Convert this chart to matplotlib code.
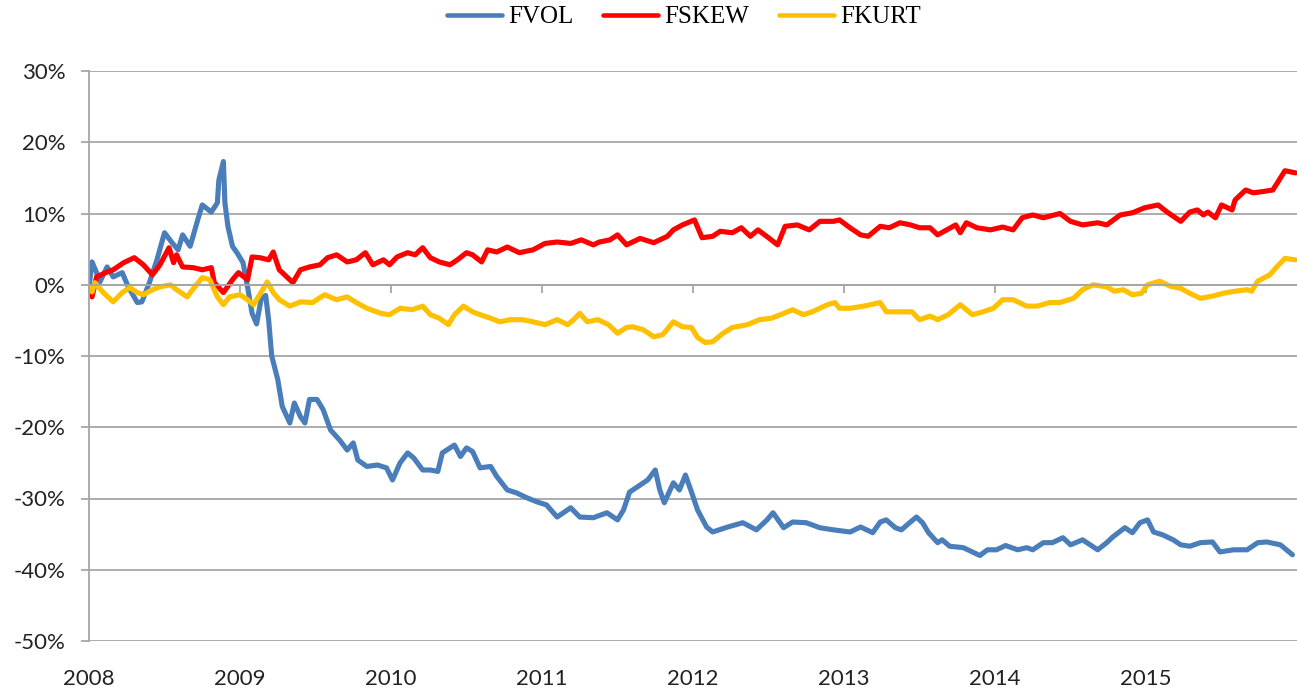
import matplotlib
matplotlib.use("Agg")
import matplotlib.pyplot as plt

# ---------------- data (decimal years, values in %) ----------------
years = [2008, 2009, 2010, 2011, 2012, 2013, 2014, 2015]
year_labels = ["2008", "2009", "2010", "2011", "2012", "2013", "2014", "2015"]
y_ticks = [-50, -40, -30, -20, -10, 0, 10, 20, 30]
y_tick_labels = ["-50%", "-40%", "-30%", "-20%", "-10%", "0%", "10%", "20%", "30%"]
series_names = ["FVOL", "FSKEW", "FKURT"]

fvol_t = [2008.00, 2008.02, 2008.05, 2008.07, 2008.12, 2008.16, 2008.22, 2008.26, 2008.32, 2008.35,
          2008.40, 2008.45, 2008.50, 2008.55, 2008.59, 2008.62, 2008.67, 2008.72, 2008.75, 2008.81,
          2008.85, 2008.86, 2008.89, 2008.90, 2008.92, 2008.95, 2008.98, 2009.02, 2009.05, 2009.08,
          2009.11, 2009.14, 2009.17, 2009.19, 2009.21, 2009.25, 2009.28, 2009.33, 2009.36, 2009.40,
          2009.43, 2009.46, 2009.51, 2009.55, 2009.60, 2009.66, 2009.71, 2009.75, 2009.78, 2009.84,
          2009.91, 2009.97, 2010.01, 2010.06, 2010.11, 2010.15, 2010.21, 2010.26, 2010.31, 2010.34,
          2010.42, 2010.46, 2010.50, 2010.54, 2010.59, 2010.66, 2010.70, 2010.77, 2010.83, 2010.90,
          2010.97, 2011.03, 2011.10, 2011.19, 2011.25, 2011.34, 2011.43, 2011.50, 2011.54, 2011.58,
          2011.65, 2011.70, 2011.75, 2011.78, 2011.81, 2011.87, 2011.91, 2011.95, 2011.99, 2012.03,
          2012.09, 2012.13, 2012.23, 2012.33, 2012.42, 2012.49, 2012.53, 2012.60, 2012.66, 2012.75,
          2012.84, 2012.93, 2013.04, 2013.11, 2013.19, 2013.24, 2013.28, 2013.34, 2013.38, 2013.44,
          2013.48, 2013.52, 2013.56, 2013.62, 2013.65, 2013.70, 2013.79, 2013.85, 2013.90, 2013.95,
          2014.01, 2014.07, 2014.15, 2014.21, 2014.25, 2014.32, 2014.38, 2014.45, 2014.50, 2014.58,
          2014.68, 2014.74, 2014.78, 2014.86, 2014.91, 2014.96, 2015.01, 2015.05, 2015.11, 2015.18,
          2015.23, 2015.29, 2015.36, 2015.44, 2015.49, 2015.58, 2015.67, 2015.74, 2015.80, 2015.89,
          2015.97]
fvol_v = [-0.3, 3.2, 1.7, 0.3, 2.5, 1.1, 1.7, -0.3, -2.5, -2.4,
          0.3, 3.5, 7.3, 5.9, 4.9, 7.0, 5.4, 9.1, 11.2, 10.2,
          11.5, 14.7, 17.3, 11.5, 8.2, 5.4, 4.5, 3.1, -0.3, -4.0,
          -5.5, -2.0, -1.5, -5.0, -10.0, -13.3, -17.1, -19.4, -16.6, -18.5,
          -19.4, -16.1, -16.1, -17.5, -20.4, -21.8, -23.2, -22.2, -24.6, -25.5,
          -25.3, -25.7, -27.4, -25.0, -23.6, -24.3, -26.0, -26.0, -26.2, -23.6,
          -22.5, -24.1, -22.9, -23.4, -25.7, -25.5, -26.9, -28.8, -29.2, -29.9,
          -30.5, -30.9, -32.6, -31.3, -32.6, -32.7, -32.0, -33.0, -31.6, -29.1,
          -28.1, -27.4, -26.0, -28.8, -30.6, -27.8, -28.8, -26.7, -29.1, -31.6,
          -34.0, -34.7, -34.0, -33.4, -34.4, -33.0, -32.0, -34.1, -33.3, -33.4,
          -34.1, -34.4, -34.7, -34.0, -34.8, -33.3, -33.0, -34.1, -34.4, -33.3,
          -32.6, -33.4, -34.8, -36.2, -35.8, -36.7, -36.9, -37.5, -38.0, -37.2,
          -37.2, -36.6, -37.2, -36.9, -37.2, -36.2, -36.2, -35.5, -36.5, -35.8,
          -37.2, -36.2, -35.4, -34.1, -34.8, -33.4, -33.0, -34.7, -35.1, -35.8,
          -36.5, -36.7, -36.2, -36.1, -37.5, -37.2, -37.2, -36.2, -36.1, -36.5,
          -37.9]

fskew_t = [2008.00, 2008.02, 2008.05, 2008.11, 2008.16, 2008.23, 2008.30, 2008.36, 2008.42, 2008.47,
           2008.53, 2008.56, 2008.58, 2008.62, 2008.69, 2008.75, 2008.81, 2008.83, 2008.89, 2008.95,
           2008.99, 2009.05, 2009.08, 2009.13, 2009.19, 2009.22, 2009.26, 2009.31, 2009.35, 2009.40,
           2009.46, 2009.53, 2009.58, 2009.64, 2009.71, 2009.77, 2009.83, 2009.88, 2009.95, 2009.99,
           2010.04, 2010.11, 2010.16, 2010.21, 2010.26, 2010.32, 2010.39, 2010.44, 2010.50, 2010.54,
           2010.60, 2010.64, 2010.70, 2010.77, 2010.85, 2010.94, 2011.02, 2011.10, 2011.19, 2011.26,
           2011.34, 2011.38, 2011.45, 2011.50, 2011.56, 2011.65, 2011.74, 2011.83, 2011.87, 2011.93,
           2012.01, 2012.06, 2012.13, 2012.18, 2012.26, 2012.32, 2012.38, 2012.43, 2012.50, 2012.56,
           2012.61, 2012.69, 2012.77, 2012.84, 2012.93, 2012.97, 2013.04, 2013.11, 2013.16, 2013.24,
           2013.30, 2013.37, 2013.44, 2013.50, 2013.57, 2013.62, 2013.68, 2013.74, 2013.77, 2013.81,
           2013.88, 2013.97, 2014.05, 2014.12, 2014.18, 2014.25, 2014.32, 2014.43, 2014.50, 2014.58,
           2014.68, 2014.74, 2014.83, 2014.91, 2014.99, 2015.08, 2015.14, 2015.23, 2015.29, 2015.34,
           2015.38, 2015.41, 2015.46, 2015.50, 2015.57, 2015.59, 2015.66, 2015.71, 2015.78, 2015.84,
           2015.87, 2015.92, 2015.99]
fskew_v = [-0.3, -1.7, 1.1, 1.7, 2.1, 3.1, 3.8, 2.8, 1.4, 2.8,
           5.2, 3.1, 4.2, 2.5, 2.4, 2.1, 2.4, 0.3, -1.1, 0.7,
           1.7, 0.7, 3.9, 3.8, 3.5, 4.6, 2.1, 1.1, 0.3, 2.1,
           2.5, 2.8, 3.8, 4.2, 3.2, 3.5, 4.5, 2.8, 3.5, 2.8,
           3.9, 4.5, 4.2, 5.2, 3.8, 3.2, 2.8, 3.5, 4.5, 4.2,
           3.2, 4.9, 4.6, 5.3, 4.5, 4.9, 5.8, 6.0, 5.8, 6.3,
           5.6, 6.0, 6.3, 7.0, 5.6, 6.5, 5.9, 6.8, 7.7, 8.4,
           9.1, 6.6, 6.8, 7.5, 7.3, 8.0, 6.8, 7.7, 6.6, 5.6,
           8.2, 8.4, 7.7, 8.9, 8.9, 9.1, 8.0, 7.0, 6.8, 8.2,
           8.0, 8.7, 8.4, 8.0, 8.0, 7.0, 7.7, 8.4, 7.3, 8.7,
           8.0, 7.7, 8.1, 7.7, 9.4, 9.8, 9.4, 10.0, 8.9, 8.4,
           8.7, 8.4, 9.8, 10.1, 10.8, 11.2, 10.2, 8.9, 10.2, 10.5,
           9.8, 10.2, 9.4, 11.2, 10.5, 11.9, 13.3, 12.9, 13.1, 13.3,
           14.3, 16.0, 15.7]

fkurt_t = [2008.00, 2008.02, 2008.04, 2008.09, 2008.16, 2008.22, 2008.27, 2008.32, 2008.36, 2008.42,
           2008.47, 2008.54, 2008.58, 2008.65, 2008.70, 2008.75, 2008.80, 2008.85, 2008.89, 2008.93,
           2009.00, 2009.05, 2009.09, 2009.15, 2009.18, 2009.22, 2009.26, 2009.33, 2009.40, 2009.48,
           2009.56, 2009.64, 2009.71, 2009.77, 2009.84, 2009.93, 2009.99, 2010.06, 2010.14, 2010.21,
           2010.26, 2010.32, 2010.38, 2010.42, 2010.48, 2010.54, 2010.59, 2010.66, 2010.72, 2010.79,
           2010.87, 2010.94, 2011.02, 2011.10, 2011.17, 2011.21, 2011.25, 2011.30, 2011.37, 2011.44,
           2011.50, 2011.56, 2011.60, 2011.67, 2011.74, 2011.80, 2011.87, 2011.93, 2011.99, 2012.03,
           2012.08, 2012.13, 2012.20, 2012.26, 2012.36, 2012.44, 2012.52, 2012.58, 2012.66, 2012.73,
           2012.79, 2012.89, 2012.94, 2012.97, 2013.04, 2013.13, 2013.24, 2013.28, 2013.37, 2013.45,
           2013.50, 2013.57, 2013.62, 2013.69, 2013.77, 2013.85, 2013.92, 2013.99, 2014.05, 2014.12,
           2014.21, 2014.28, 2014.36, 2014.43, 2014.52, 2014.58, 2014.65, 2014.74, 2014.79, 2014.85,
           2014.91, 2014.97, 2015.01, 2015.09, 2015.16, 2015.23, 2015.29, 2015.36, 2015.44, 2015.51,
           2015.59, 2015.67, 2015.70, 2015.74, 2015.82, 2015.87, 2015.92, 2015.99]
fkurt_v = [-0.3, -1.0, 0.3, -1.0, -2.4, -1.1, -0.4, -1.1, -1.4, -0.7,
           -0.3, 0.0, -0.7, -1.7, -0.3, 1.0, 0.7, -1.7, -2.8, -1.7,
           -1.4, -2.1, -2.8, -0.7, 0.4, -1.1, -2.1, -3.0, -2.4, -2.5,
           -1.4, -2.1, -1.7, -2.5, -3.3, -4.0, -4.2, -3.3, -3.5, -3.0,
           -4.2, -4.7, -5.6, -4.2, -3.0, -3.8, -4.2, -4.7, -5.2, -4.9,
           -4.9, -5.2, -5.6, -4.9, -5.6, -4.9, -4.0, -5.2, -4.9, -5.6,
           -6.8, -6.0, -5.9, -6.3, -7.3, -7.0, -5.2, -5.9, -6.0, -7.4,
           -8.1, -8.0, -6.8, -6.0, -5.6, -4.9, -4.7, -4.2, -3.5, -4.2,
           -3.8, -2.8, -2.5, -3.3, -3.3, -3.0, -2.5, -3.8, -3.8, -3.8,
           -4.9, -4.4, -4.9, -4.2, -2.8, -4.2, -3.8, -3.3, -2.1, -2.1,
           -3.0, -3.0, -2.5, -2.5, -1.9, -0.7, 0.0, -0.3, -0.9, -0.7,
           -1.4, -1.2, 0.0, 0.5, -0.2, -0.5, -1.2, -1.9, -1.6, -1.2,
           -0.9, -0.7, -0.9, 0.5, 1.4, 2.6, 3.7, 3.5]

colors = ["#4A7EBB", "#FF0000", "#FFC000"]
grid_color = "#A6A6A6"

# ---------------- figure ----------------
plt.rcParams["font.family"] = ["Lato", "DejaVu Sans"]
W, H = 1297, 694
fig = plt.figure(figsize=(W / 100, H / 100), dpi=100)
ax = fig.add_axes([89 / W, 53 / H, 1208 / W, 570 / H])

for t, v, c, name in zip([fvol_t, fskew_t, fkurt_t], [fvol_v, fskew_v, fkurt_v], colors, series_names):
    ax.plot(t, v, color=c, lw=3.7, label=name, solid_joinstyle="round", solid_capstyle="round")

ax.set_xlim(2008, 2016)
ax.set_ylim(-50, 30)
ax.set_yticks(y_ticks)
ax.set_yticklabels(y_tick_labels, fontsize=16, color="#222222")
ax.yaxis.grid(True, color=grid_color, lw=1.3)
ax.set_axisbelow(True)

for s in ["top", "right"]:
    ax.spines[s].set_visible(False)
ax.spines["left"].set_color(grid_color)
ax.spines["left"].set_linewidth(1.3)
ax.spines["bottom"].set_position(("data", 0))
ax.spines["bottom"].set_color(grid_color)
ax.spines["bottom"].set_linewidth(1.3)

ax.set_xticks(years)
ax.tick_params(axis="x", direction="out", length=6, width=1.3, color=grid_color, labelbottom=False)
ax.tick_params(axis="y", direction="out", length=6, width=1.3, color=grid_color, pad=11)

sec = ax.secondary_xaxis(0.0)
sec.set_xticks(years)
sec.set_xticklabels(year_labels, fontsize=16, color="#222222")
sec.tick_params(length=0, pad=20)
sec.spines["bottom"].set_visible(False)

leg = ax.legend(loc="center", bbox_to_anchor=(684 / W, 1 - 17 / H), bbox_transform=fig.transFigure,
                ncol=3, frameon=False, prop={"family": "Liberation Serif", "size": 18},
                handlelength=2.2, handletextpad=0.25, columnspacing=1.2)
for line in leg.get_lines():
    line.set_linewidth(3.3)

fig.savefig("out.png", dpi=100)
